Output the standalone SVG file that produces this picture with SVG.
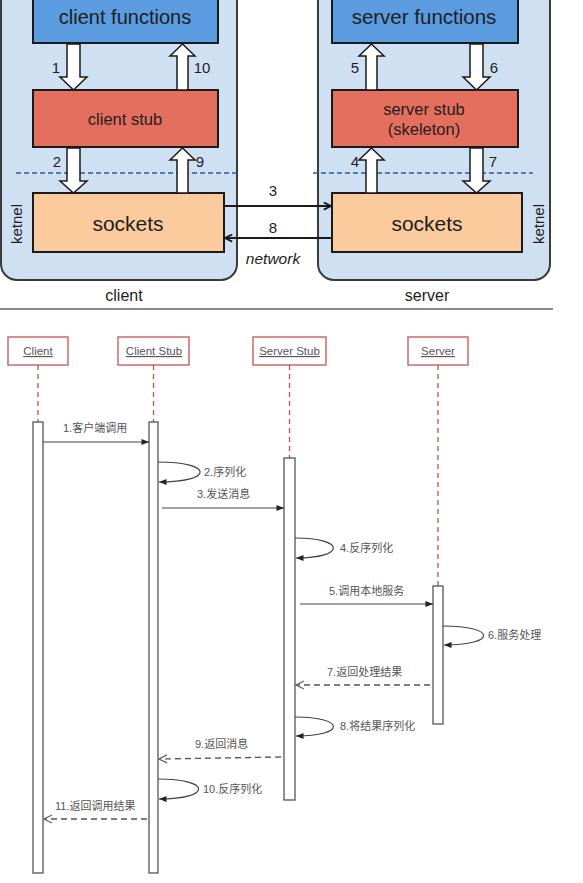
<svg xmlns="http://www.w3.org/2000/svg" width="583" height="883" viewBox="0 0 583 883">
<defs>
<style>
.outer{fill:#cfe0f2;stroke:#3a3a3a;stroke-width:2}
.func{fill:#5b9be0;stroke:#1a1a1a;stroke-width:2}
.stub{fill:#e56f5f;stroke:#1a1a1a;stroke-width:2}
.sock{fill:#fbcb9d;stroke:#1a1a1a;stroke-width:2}
.blk{fill:#fff;stroke:#1a1a1a;stroke-width:1.5;stroke-linejoin:miter}
.t{font-family:"Liberation Sans",Arial,sans-serif;fill:#1e1e1e;text-anchor:middle}
.num{font-family:"Liberation Sans",Arial,sans-serif;fill:#1e1e1e;font-size:15px;text-anchor:middle}
.kern{font-family:"Liberation Sans",Arial,sans-serif;fill:#1e1e1e;font-size:15px;text-anchor:middle}
.dash{stroke:#2f5d97;stroke-width:1.6;stroke-dasharray:5 3;fill:none}
.net{stroke:#1a1a1a;stroke-width:2;fill:none}
.lbox{fill:#fff;stroke:#c96b6b;stroke-width:1.5}
.ltitle{font-family:"Liberation Sans",Arial,sans-serif;font-size:11.5px;fill:#555;text-anchor:middle;text-decoration:underline}
.life{stroke:#c0504d;stroke-width:1.3;stroke-dasharray:5 4;fill:none}
.act{fill:#fff;stroke:#555;stroke-width:1.3}
.msg{stroke:#444;stroke-width:1.2;fill:none}
.ret{stroke:#555;stroke-width:1.3;fill:none;stroke-dasharray:6 4}
.lbl{font-family:"Liberation Sans","Noto Sans CJK SC",sans-serif;font-size:11px;fill:#555}
</style>
<marker id="netArrow" viewBox="0 0 10 10" refX="9" refY="5" markerWidth="9" markerHeight="9" markerUnits="userSpaceOnUse" orient="auto">
<path d="M1,1 L9,5 L1,9" fill="none" stroke="#1a1a1a" stroke-width="2"/>
</marker>
<marker id="fillArrow" viewBox="0 0 10 8" refX="10" refY="4" markerWidth="8" markerHeight="6" markerUnits="userSpaceOnUse" orient="auto">
<path d="M0,0 L10,4 L0,8 Z" fill="#222"/>
</marker>
<marker id="openArrow" viewBox="0 0 10 10" refX="9" refY="5" markerWidth="10" markerHeight="10" markerUnits="userSpaceOnUse" orient="auto">
<path d="M1,1 L9,5 L1,9" fill="none" stroke="#666" stroke-width="1.2"/>
</marker>
</defs>
<rect x="0" y="0" width="583" height="883" fill="#fff"/>

<!-- Upper architecture -->
<g id="client-side">
<rect class="outer" x="1" y="-30" width="236" height="310" rx="16"/>
<text class="t" x="124" y="301" font-size="16">client</text>
<text class="kern" transform="translate(22,224) rotate(-90)">ketnel</text>
</g>
<g id="server-side">
<rect class="outer" x="318" y="-30" width="232" height="310" rx="16"/>
<text class="t" x="427" y="301" font-size="16">server</text>
<text class="kern" transform="translate(544,224) rotate(-90)">ketnel</text>
</g>
<g id="kernel-boundary">
<line class="dash" x1="16" y1="173" x2="237" y2="173"/>
<line class="dash" x1="313" y1="173" x2="533" y2="173"/>
</g>
<g id="client-functions">
<rect class="func" x="33" y="-10" width="185" height="53"/>
<text class="t" x="125" y="24" font-size="20">client functions</text>
</g>
<g id="client-stub">
<rect class="stub" x="33" y="90" width="185" height="57"/>
<text class="t" x="125" y="125" font-size="16.5">client stub</text>
</g>
<g id="client-sockets">
<rect class="sock" x="33" y="193" width="191" height="59"/>
<text class="t" x="128" y="231" font-size="21">sockets</text>
</g>
<g id="server-functions">
<rect class="func" x="332" y="-10" width="186" height="53"/>
<text class="t" x="424" y="24" font-size="20.5">server functions</text>
</g>
<g id="server-stub">
<rect class="stub" x="332" y="90" width="186" height="57"/>
<text class="t" x="424" y="115" font-size="16.5">server stub</text>
<text class="t" x="424" y="135" font-size="16.5">(skeleton)</text>
</g>
<g id="server-sockets">
<rect class="sock" x="332" y="193" width="190" height="59"/>
<text class="t" x="427" y="231" font-size="21">sockets</text>
</g>

<g id="connectors">
<path class="blk" d="M67,44 L80,44 L80,77 L87,77 L73.5,90 L60,77 L67,77 Z"/>
<path class="blk" d="M177,90 L188,90 L188,56 L195,56 L182.5,44 L170,56 L177,56 Z"/>
<path class="blk" d="M67,148 L80,148 L80,181 L87,181 L73.5,193 L60,181 L67,181 Z"/>
<path class="blk" d="M177,193 L188,193 L188,160 L195,160 L182.5,148 L170,160 L177,160 Z"/>
<path class="blk" d="M366,90 L377,90 L377,56 L384,56 L371.5,44 L359,56 L366,56 Z"/>
<path class="blk" d="M470,44 L483,44 L483,77 L490,77 L476.5,90 L463,77 L470,77 Z"/>
<path class="blk" d="M366,193 L377,193 L377,160 L384,160 L371.5,148 L359,160 L366,160 Z"/>
<path class="blk" d="M470,148 L483,148 L483,181 L490,181 L476.5,193 L463,181 L470,181 Z"/>
<line class="net" x1="224" y1="206" x2="331" y2="206" marker-end="url(#netArrow)"/>
<line class="net" x1="332" y1="238" x2="225" y2="238" marker-end="url(#netArrow)"/>
</g>
<g id="upper-labels">
<text class="num" x="56" y="73">1</text>
<text class="num" x="202" y="73">10</text>
<text class="num" x="57" y="167">2</text>
<text class="num" x="200" y="167">9</text>
<text class="num" x="355" y="73">5</text>
<text class="num" x="494" y="73">6</text>
<text class="num" x="355" y="167">4</text>
<text class="num" x="493" y="167">7</text>
<text class="num" x="273" y="196" font-size="16">3</text>
<text class="num" x="273" y="233" font-size="16">8</text>
<text class="t" x="273" y="264" font-size="15.5" font-style="italic">network</text>
</g>
<line x1="0" y1="309" x2="553" y2="309" stroke="#8a8a8a" stroke-width="2"/>

<!-- Sequence diagram -->
<g id="seq-client">
<rect class="lbox" x="8" y="337" width="60" height="28"/>
<text class="ltitle" x="38" y="355">Client</text>
<line class="life" x1="38" y1="365" x2="38" y2="422"/>
<rect class="act" x="33" y="422" width="10" height="451"/>
</g>
<g id="seq-client-stub">
<rect class="lbox" x="118" y="337" width="71" height="28"/>
<text class="ltitle" x="154" y="355">Client Stub</text>
<line class="life" x1="153.5" y1="365" x2="153.5" y2="422"/>
<rect class="act" x="149" y="422" width="9" height="451"/>
</g>
<g id="seq-server-stub">
<rect class="lbox" x="253" y="337" width="73" height="28"/>
<text class="ltitle" x="289.5" y="355">Server Stub</text>
<line class="life" x1="289.5" y1="365" x2="289.5" y2="458"/>
<rect class="act" x="284" y="458" width="11" height="342"/>
</g>
<g id="seq-server">
<rect class="lbox" x="408" y="337" width="60" height="28"/>
<text class="ltitle" x="438" y="355">Server</text>
<line class="life" x1="438" y1="365" x2="438" y2="586"/>
<rect class="act" x="433" y="586" width="10" height="138"/>
</g>

<g id="seq-messages">
<line class="msg" x1="43" y1="442" x2="149" y2="442" marker-end="url(#fillArrow)"/>
<path class="msg" d="M158,462 C214,462 214,482 159,482" marker-end="url(#fillArrow)"/>
<line class="msg" x1="162" y1="508" x2="284" y2="508" marker-end="url(#fillArrow)"/>
<path class="msg" d="M295,538 C346,538 346,558 296,558" marker-end="url(#fillArrow)"/>
<line class="msg" x1="300" y1="604" x2="433" y2="604" marker-end="url(#fillArrow)"/>
<path class="msg" d="M443,626 C497,626 497,645 444,645" marker-end="url(#fillArrow)"/>
<line class="ret" x1="430" y1="685" x2="296" y2="685" marker-end="url(#openArrow)"/>
<path class="msg" d="M295,717 C346,717 346,736 296,736" marker-end="url(#fillArrow)"/>
<line class="ret" x1="281" y1="757" x2="159" y2="759" marker-end="url(#openArrow)"/>
<path class="msg" d="M158,779 C212,779 212,799 159,799" marker-end="url(#fillArrow)"/>
<line class="ret" x1="147" y1="819" x2="44" y2="819" marker-end="url(#openArrow)"/>
</g>
<g id="seq-labels">
<text class="lbl" x="63" y="432">1.客户端调用</text>
<text class="lbl" x="204" y="476">2.序列化</text>
<text class="lbl" x="197" y="498">3.发送消息</text>
<text class="lbl" x="340" y="552">4.反序列化</text>
<text class="lbl" x="329" y="595">5.调用本地服务</text>
<text class="lbl" x="488" y="639">6.服务处理</text>
<text class="lbl" x="327" y="676">7.返回处理结果</text>
<text class="lbl" x="340" y="730">8.将结果序列化</text>
<text class="lbl" x="195" y="748">9.返回消息</text>
<text class="lbl" x="203" y="793">10.反序列化</text>
<text class="lbl" x="55" y="810">11.返回调用结果</text>
</g>
</svg>
